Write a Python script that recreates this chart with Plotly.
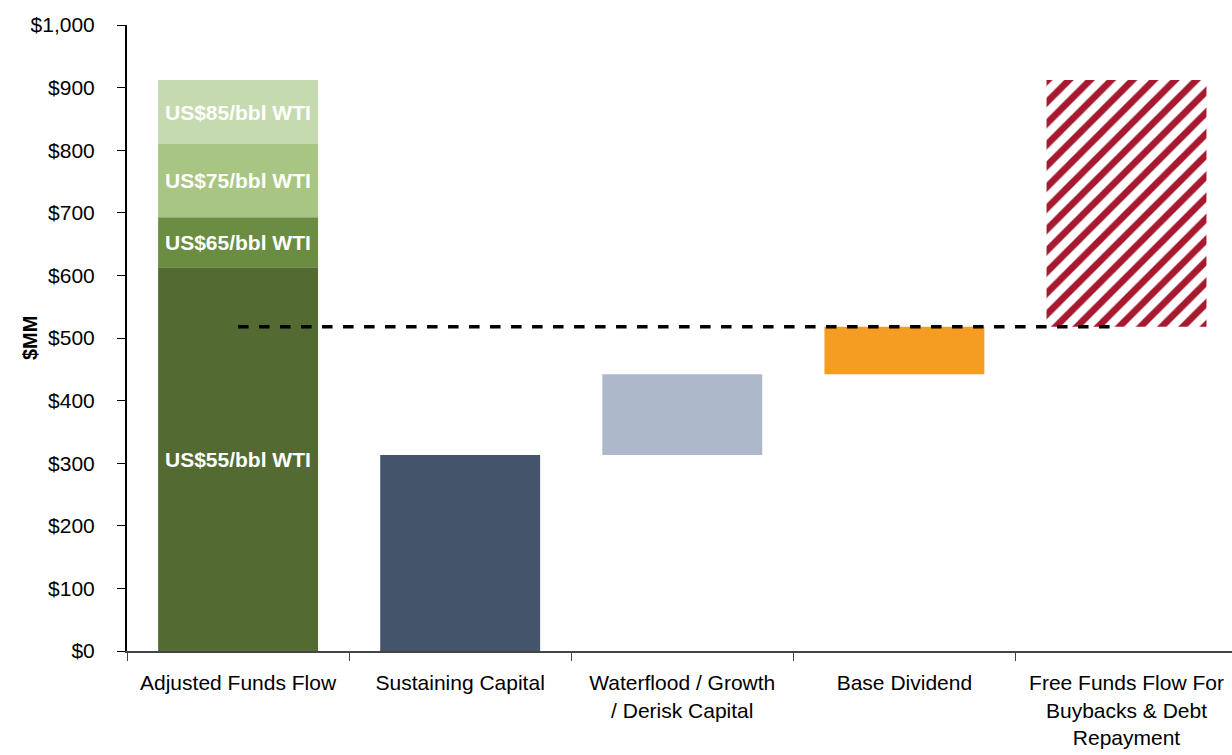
import plotly.graph_objects as go

# Categories along the x axis
categories = [
    "Adjusted Funds Flow",
    "Sustaining Capital",
    "Waterflood / Growth<br>/ Derisk Capital",
    "Base Dividend",
    "Free Funds Flow For<br>Buybacks & Debt<br>Repayment",
]

# Adjusted funds flow by WTI price deck ($MM, incremental tiers)
price_decks = ["US$55/bbl WTI", "US$65/bbl WTI", "US$75/bbl WTI", "US$85/bbl WTI"]
aff_increments = [613, 80, 117, 102]
aff_colors = ["#536B32", "#6A8D42", "#A8C584", "#C6DAB0"]

# Uses of funds ($MM), stacked as a waterfall
uses_labels = ["Sustaining Capital", "Waterflood / Growth / Derisk Capital", "Base Dividend"]
uses_values = [313, 129, 76]
uses_colors = ["#44546A", "#ADB8CA", "#F59D22"]

# Dashed reference level ($MM) at US$55/bbl after base uses
reference_level = 518

# Y axis ticks
y_ticks = list(range(0, 1001, 100))
y_tick_text = ["${:,}".format(v) for v in y_ticks]

font_family = "Liberation Sans, Arial, sans-serif"

fig = go.Figure()

# Stacked AFF tiers
base = 0
for name, inc, col in zip(price_decks, aff_increments, aff_colors):
    fig.add_trace(go.Bar(
        x=[categories[0]], y=[inc], base=[base],
        marker=dict(color=col, line=dict(width=0)),
        width=0.72, name=name, showlegend=False, hoverinfo="skip",
    ))
    fig.add_annotation(
        x=categories[0], y=base + inc / 2, text="<b>" + name + "</b>", showarrow=False,
        font=dict(family=font_family, size=21, color="white"),
        xref="x", yref="y",
    )
    base += inc
aff_total = base

# Waterfall of uses
running = 0
for i, (lbl, val, col) in enumerate(zip(uses_labels, uses_values, uses_colors)):
    fig.add_trace(go.Bar(
        x=[categories[i + 1]], y=[val], base=[running],
        marker=dict(color=col, line=dict(width=0)),
        width=0.72, name=lbl, showlegend=False, hoverinfo="skip",
    ))
    running += val

# Free funds flow: remainder of the top price deck, hatched
fig.add_trace(go.Bar(
    x=[categories[4]], y=[aff_total - running], base=[running],
    marker=dict(
        color="white",
        line=dict(width=0),
        pattern=dict(shape="/", fgcolor="#A6192E", bgcolor="white",
                     fgopacity=1, size=15, solidity=0.45),
    ),
    width=0.72, name="Free Funds Flow", showlegend=False, hoverinfo="skip",
))

# Dashed line at the reference level
fig.add_shape(
    type="line", xref="x", yref="y",
    x0=0, x1=3.97, y0=reference_level, y1=reference_level,
    line=dict(color="black", width=3.5, dash="dash"),
)

# Y axis title
fig.add_annotation(
    xref="paper", yref="paper", x=0, y=0.5, xshift=-97, xanchor="center", yanchor="middle",
    text="<b>$MM</b>", textangle=-90, showarrow=False,
    font=dict(family=font_family, size=20, color="black"),
)

fig.update_layout(
    width=1232, height=755,
    margin=dict(l=127, r=0, t=25, b=104),
    paper_bgcolor="white", plot_bgcolor="white",
    barmode="overlay",
    font=dict(family=font_family, size=21, color="black"),
    xaxis=dict(
        type="category",
        range=[-0.5, 4.475],
        tickson="boundaries",
        ticks="outside", ticklen=8, tickcolor="#444",
        showline=True, linecolor="#444", linewidth=2,
        showgrid=False, zeroline=False,
        ticklabelstandoff=12,
        tickfont=dict(size=21, family=font_family, color="black"),
    ),
    yaxis=dict(
        range=[0, 1000],
        tickvals=y_ticks, ticktext=y_tick_text,
        ticks="outside", ticklen=8, tickcolor="black",
        showline=True, linecolor="black", linewidth=2,
        showgrid=False, zeroline=False,
        ticklabelstandoff=18,
        tickfont=dict(size=21, family=font_family, color="black"),
    ),
)

fig.write_html("out.html")
